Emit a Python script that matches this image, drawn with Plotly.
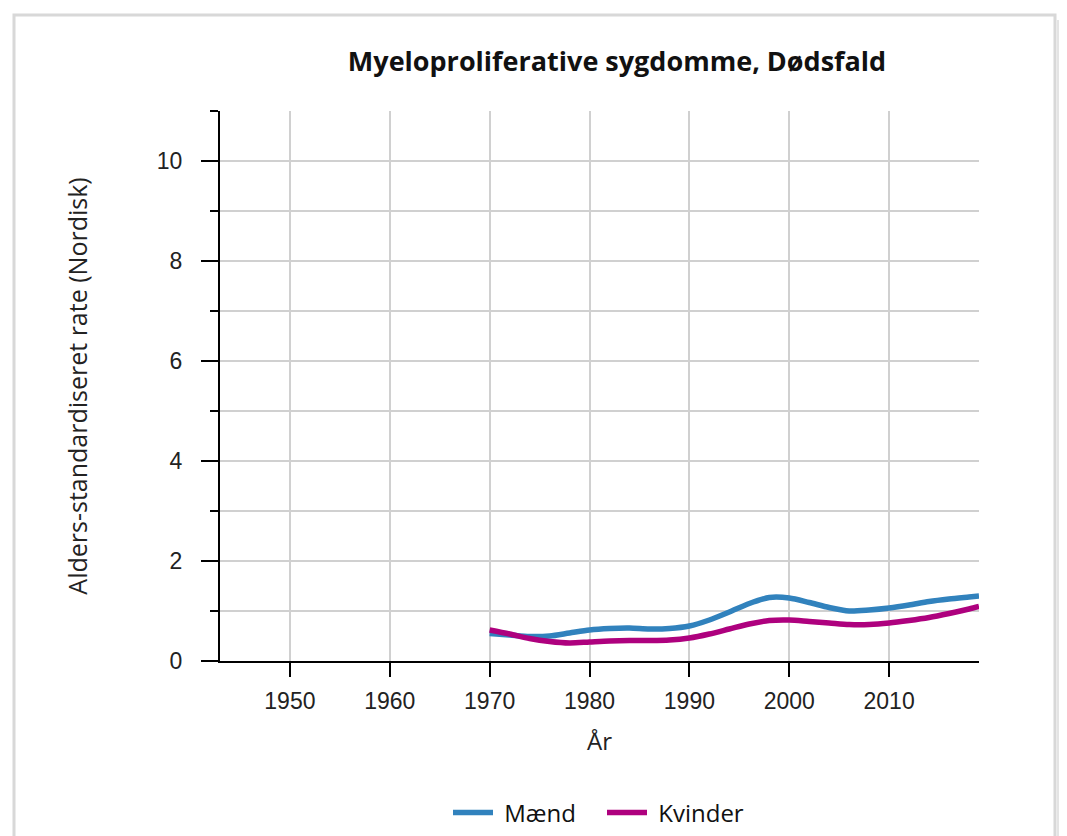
import plotly.graph_objects as go

years_m = [1970, 1972, 1974, 1976, 1978, 1980, 1982, 1984, 1986, 1988, 1990, 1992, 1994, 1996, 1998, 2000, 2002, 2004, 2006, 2008, 2010, 2012, 2014, 2016, 2018, 2019]
maend = [0.55, 0.52, 0.49, 0.50, 0.56, 0.62, 0.65, 0.66, 0.64, 0.65, 0.70, 0.82, 0.98, 1.15, 1.27, 1.26, 1.17, 1.07, 1.00, 1.02, 1.06, 1.12, 1.19, 1.24, 1.28, 1.30]
years_k = years_m
kvinder = [0.62, 0.54, 0.45, 0.39, 0.36, 0.38, 0.40, 0.41, 0.41, 0.42, 0.46, 0.54, 0.64, 0.74, 0.81, 0.82, 0.79, 0.76, 0.73, 0.73, 0.76, 0.81, 0.87, 0.95, 1.04, 1.09]

x_ticks = [1950, 1960, 1970, 1980, 1990, 2000, 2010]
y_ticks = [0, 2, 4, 6, 8, 10]

title = "Myeloproliferative sygdomme, Dødsfald"
x_title = "År"
y_title = "Alders-standardiseret rate (Nordisk)"

W, H = 1059, 828
L, T = 212, 103
PW, PH = 759, 550

fig = go.Figure()
fig.add_trace(go.Scatter(x=years_m, y=maend, name="\u00a0Mænd", mode="lines",
                         line=dict(color="#3182bd", width=5.5, shape="spline", smoothing=0.8)))
fig.add_trace(go.Scatter(x=years_k, y=kvinder, name="\u00a0Kvinder", mode="lines",
                         line=dict(color="#ae017e", width=5.5, shape="spline", smoothing=0.8)))

fig.update_layout(
    width=W, height=H,
    margin=dict(l=L, r=W - L - PW, t=T, b=H - T - PH, autoexpand=False),
    paper_bgcolor="white", plot_bgcolor="white",
    title=dict(text="<b>" + title + "</b>", x=(609 - L) / PW, xref="paper", xanchor="center",
               y=(H - 54) / H, yanchor="middle",
               font=dict(family="Open Sans", size=27, color="#111")),
    xaxis=dict(range=[1943, 2019], tickvals=x_ticks, ticks="outside", ticklen=14, tickwidth=2,
               tickcolor="black", showline=True, linecolor="black", linewidth=2,
               showgrid=True, gridcolor="#d0d0d0", gridwidth=2, zeroline=False,
               ticklabelstandoff=4,
               tickfont=dict(family="Liberation Sans", size=23, color="#222"),
               title=dict(text=x_title, font=dict(family="Open Sans", size=24, color="#222"), standoff=21)),
    yaxis=dict(range=[0, 11], tickvals=y_ticks, ticks="outside", ticklen=17, tickwidth=2,
               tickcolor="black", showline=True, linecolor="black", linewidth=2,
               showgrid=True, gridcolor="#d0d0d0", gridwidth=2, zeroline=False,
               ticklabelstandoff=14,
               minor=dict(dtick=1, ticks="outside", ticklen=8, tickwidth=2, tickcolor="black",
                          showgrid=True, gridcolor="#d0d0d0", gridwidth=2),
               tickfont=dict(family="Liberation Sans", size=23, color="#222"),
               title=dict(text=y_title, font=dict(family="Open Sans", size=25, color="#222"), standoff=62)),
    legend=dict(orientation="h", xref="container", x=(448 - 8) / W, xanchor="left",
                yref="container", y=(H - (813 - 8)) / H, yanchor="middle",
                font=dict(family="Open Sans", size=24, color="#111"), itemwidth=40,
                entrywidth=99, entrywidthmode="pixels"),
    showlegend=True,
    shapes=[
        dict(type="rect", xref="paper", yref="paper",
             x0=(1049 - L) / PW, x1=(1054 - L) / PW,
             y0=(653 - 860) / PH, y1=(653 - 12) / PH,
             line=dict(width=0), fillcolor="#e4e4e4", layer="below"),
        dict(type="rect", xref="paper", yref="paper",
             x0=(6 - L) / PW, x1=(1047 - L) / PW,
             y0=(653 - 860) / PH, y1=(653 - 7) / PH,
             line=dict(color="#d8d8d8", width=3), layer="below"),
    ],
)

fig.write_html("out.html")
